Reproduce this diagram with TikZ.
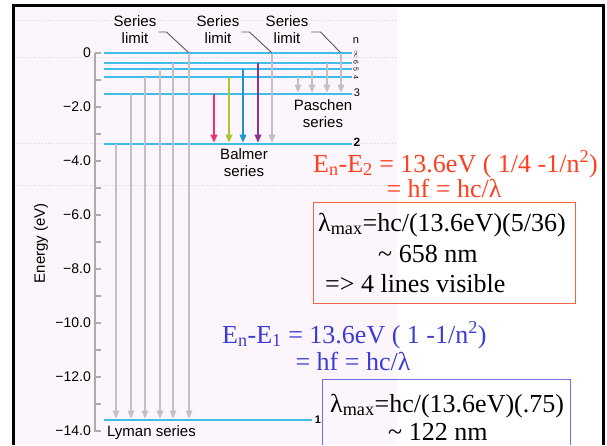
\documentclass[tikz,border=0pt]{standalone}
\usepackage{fontspec}
\setmainfont{Liberation Serif}
\setsansfont{Liberation Sans}
\usepackage{xcolor}
\usepackage{tikz}
\usetikzlibrary{positioning,arrows.meta}
\definecolor{levelblue}{RGB}{64,188,232}
\definecolor{lygrey}{RGB}{192,192,198}
\definecolor{leadgrey}{RGB}{90,90,90}
\definecolor{axisgrey}{RGB}{172,172,172}
\definecolor{bgpink}{RGB}{252,246,252}
\definecolor{dotpink}{RGB}{222,212,222}
\definecolor{eqred}{RGB}{255,62,30}
\definecolor{eqblue}{RGB}{60,60,210}
\definecolor{boxred}{RGB}{240,100,70}
\definecolor{boxblue}{RGB}{110,110,225}
\definecolor{balred}{RGB}{232,52,110}
\definecolor{balgreen}{RGB}{165,200,50}
\definecolor{balblue}{RGB}{25,150,210}
\definecolor{balpurple}{RGB}{135,55,145}

\begin{document}
\begin{tikzpicture}[x=1pt, y=-1pt,
  level/.style={levelblue, line width=2.5pt},
  trans/.style={-{Triangle[length=8pt,width=6.5pt]}, line width=1.7pt, shorten >=1.3pt},
  leader/.style={leadgrey, line width=0.9pt},
  lbl/.style={font=\sffamily\fontsize{15}{17}\selectfont, align=center, inner sep=0pt},
  tck/.style={font=\sffamily\fontsize{14}{16}\selectfont, anchor=east, inner sep=0pt},
  nlbl/.style={font=\sffamily\fontsize{11}{11}\selectfont, inner sep=0pt},
  eq/.style={font=\fontsize{26}{30}\selectfont, inner sep=0pt, anchor=base west}
]
\useasboundingbox (0,0) rectangle (607,445);
\fill[bgpink] (14,6) rectangle (397,445);
\foreach \y in {20,57,143,185}
  \draw[dotpink, dotted, line width=0.8pt] (14,\y) -- (397,\y);
\draw[line width=3pt] (13,445) -- (13,5) -- (603,5) -- (603,445);

\draw[axisgrey, line width=1.3pt] (95,53) -- (95,432);
\foreach \e in {0,...,14}
  \draw[axisgrey, line width=1.3pt] (95,{53+27*\e}) -- (101,{53+27*\e});
\foreach \e/\t in {0/0,2/−2.0,4/−4.0,6/−6.0,8/−8.0,10/−10.0,12/−12.0,14/−14.0}
  \node[tck] (t\e) at (91,{53+27*\e}) {\t};
\node[lbl, rotate=90] (energy) at (41,243) {Energy (eV)};

\coordinate (Einf) at (0,53);
\coordinate (E6) at (0,63);
\coordinate (E5) at (0,69);
\coordinate (E4) at (0,77);
\coordinate (E3) at (0,94);
\coordinate (E2) at (0,144);
\coordinate (E1) at (0,420);
\foreach \lv in {Einf,E6,E5,E4,E3,E2}
  \draw[level] (104,0 |- \lv) -- (352,0 |- \lv);
\draw[level] (104,0 |- E1) -- (312,0 |- E1);

\foreach \x/\lv in {116/E2,131/E3,145/E4,160/E5,173/E6,189/Einf}
  \draw[trans, lygrey] (\x,0 |- \lv) -- (\x,0 |- E1);
\foreach \x/\lv/\c in {214/E3/balred,229/E4/balgreen,243/E5/balblue,258/E6/balpurple,272/Einf/lygrey}
  \draw[trans, \c, line width=2pt] (\x,0 |- \lv) -- (\x,0 |- E2);
\foreach \x/\lv in {298/E4,312/E5,327/E6,341/Einf}
  \draw[trans, lygrey, line width=1.5pt] (\x,0 |- \lv) -- (\x,0 |- E3);

\node[lbl] (lim1) at (135,30) {Series\\limit};
\node[lbl] (lim2) at (218,30) {Series\\limit};
\node[lbl] (lim3) at (287,30) {Series\\limit};
\draw[leader] ([xshift=2pt,yshift=-2pt]lim1.east) -- ++(8,0) -- (189,0 |- Einf);
\draw[leader] ([xshift=2pt,yshift=-2pt]lim2.east) -- ++(8,0) -- (272,0 |- Einf);
\draw[leader] ([xshift=3pt,yshift=-2pt]lim3.east) -- ++(9,0) -- (341,0 |- Einf);

\node[lbl] (balmer) at (244,163) {Balmer\\series};
\node[lbl] (paschen) at (323,114) {Paschen\\series};
\node[lbl, anchor=west] (lyman) at (107,433) {Lyman series};

\node[nlbl] (nn) at (356,41) {n};
\node[nlbl, font=\fontsize{7}{7}\selectfont, rotate=-90] (ninf) at (356,54) {$\infty$};
\node[nlbl, font=\sffamily\fontsize{7}{7}\selectfont, rotate=-90] (n6) at (356,62) {6};
\node[nlbl, font=\sffamily\fontsize{7}{7}\selectfont, rotate=-90] (n5) at (356,69) {5};
\node[nlbl, font=\sffamily\fontsize{7}{7}\selectfont, rotate=-90] (n4) at (356,77) {4};
\node[nlbl] (n3) at (357,93) {3};
\node[nlbl, font=\sffamily\bfseries\fontsize{12}{12}\selectfont] (n2) at (357,142) {2};
\node[nlbl, font=\sffamily\bfseries\fontsize{11}{11}\selectfont] (n1) at (318,420) {1};

\node[eq, eqred] (bal1) at (313,172) {E\textsubscript{n}-E\textsubscript{2} = 13.6eV ( 1/4 -1/n\textsuperscript{2})};
\node[eq, eqred, anchor=base] (bal2) at (444,197) {= hf = hc/λ};
\node[draw=boxred, line width=1pt, minimum width=262pt, minimum height=101pt, inner sep=0pt] (balbox) at (444,252.5) {};
\node[eq] (bal3) at (318,231) {λ\textsubscript{max}=hc/(13.6eV)(5/36)};
\node[eq] (bal4) at (378,262) {\textasciitilde{} 658 nm};
\node[eq] (bal5) at (325,292) {=> 4 lines visible};

\node[eq, eqblue] (lym1) at (222,343) {E\textsubscript{n}-E\textsubscript{1} = 13.6eV ( 1 -1/n\textsuperscript{2})};
\node[eq, eqblue, anchor=base] (lym2) at (353,370) {= hf = hc/λ};
\draw[boxblue, line width=1pt] (322,445) |- (570,379) -- (570,445);
\node[eq] (lym3) at (330,412) {λ\textsubscript{max}=hc/(13.6eV)(.75)};
\node[eq] (lym4) at (388,440) {\textasciitilde{} 122 nm};
\end{tikzpicture}
\end{document}
